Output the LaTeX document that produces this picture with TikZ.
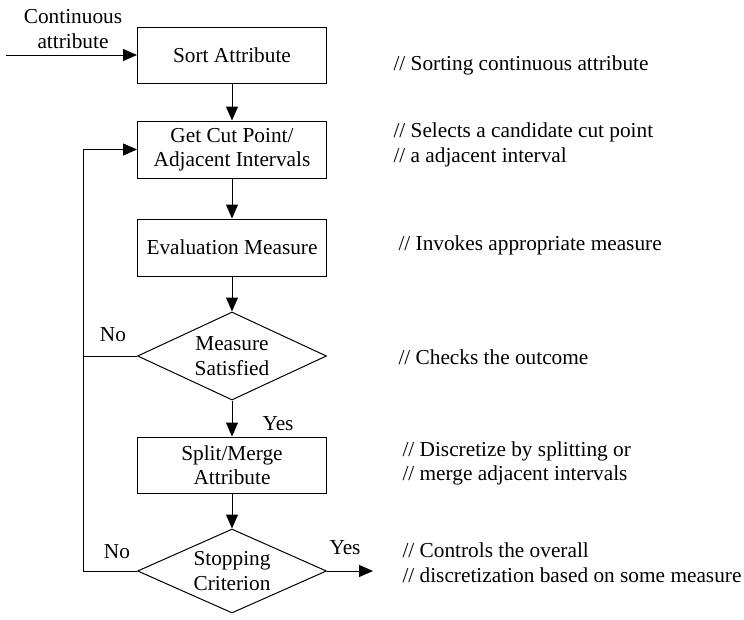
\documentclass[tikz,border=0pt]{standalone}
\usepackage{fontspec}
\setmainfont{Liberation Serif}
\usetikzlibrary{arrows.meta,positioning}
\usetikzlibrary{shapes.geometric}

\begin{document}
\begin{tikzpicture}
		[x=1pt,y=-1pt,line width=1pt,font=\fontsize{21.3}{24.5}\selectfont,
		step box/.style={draw,minimum width=189pt,minimum height=56pt,inner sep=0pt,align=center},
		test node/.style={shape=diamond,draw,aspect=2.15,minimum width=189pt,minimum height=88pt,inner sep=0pt,align=center},
		note/.style={anchor=west,align=left,inner sep=0pt},
		>={Triangle[length=14pt,width=12pt]}]
		\useasboundingbox (0,0) rectangle (744,619);
		
		\node [step box] (1) at (232,55) {Sort Attribute};
		\node [step box,minimum height=57pt] (2) at (232,149.5) {Get Cut Point/\\Adjacent Intervals};
		\node [step box,minimum height=57pt] (3) at (232,247.5) {Evaluation Measure};
		\node [test node] (4) at (232,356) {Measure\\Satisfied};
		\node [step box] (5) at (232,465) {Split/Merge\\Attribute};
		\node [test node,minimum height=84pt] (6) at (232,571) {Stopping\\Criterion};
		
		\node [align=center] (input) at (73,29) {Continuous\\attribute};
		\coordinate (src) at (6,55);
		\coordinate (out) at (373,571);
		\coordinate (loop) at (83,356);
		\coordinate (back) at (83,571);
		
		\path[->]
		(src) edge (1)
		(1) edge (2)
		(2) edge (3)
		(3) edge (4)
		(4) edge (5)
		(5) edge (6)
		(6) edge (out)
		;
		\draw[->] (6.west) -- (back) |- (2.west);
		\draw (4.west) -- (loop);
		
		\node (no1) at (113,335) {No};
		\node (yes1) at (278,424) {Yes};
		\node (no2) at (117,552) {No};
		\node (yes2) at (345,548) {Yes};
		
		% comments on the right
		\node [note] (c1) at (393,65) {// Sorting continuous attribute};
		\node [note] (c2) at (393,145) {// Selects a candidate cut point\\// a adjacent interval};
		\node [note] (c3) at (398,245) {// Invokes appropriate measure};
		\node [note] (c4) at (398,357) {// Checks the outcome};
		\node [note] (c5) at (402,463.5) {// Discretize by splitting or\\// merge adjacent intervals};
		\node [note] (c6) at (402,562.5) {// Controls the overall\\// discretization based on some measure};
		
\end{tikzpicture}
\end{document}
